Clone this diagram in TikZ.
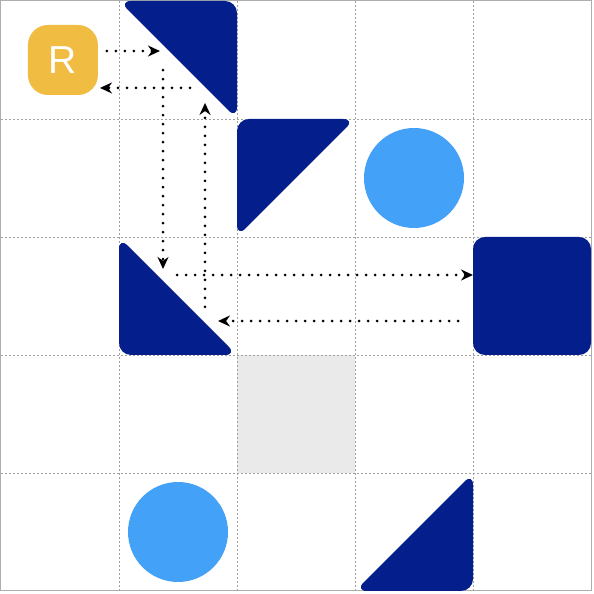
\documentclass[tikz,border=0pt]{standalone}
\usepackage{fontspec}
\setsansfont{Liberation Sans}
\usetikzlibrary{arrows.meta}
\definecolor{navy}{HTML}{041E8C}
\definecolor{sky}{HTML}{44A1F8}
\definecolor{gold}{HTML}{F0BC42}
\definecolor{floor}{HTML}{EAEAEA}
\definecolor{gridgray}{HTML}{A0A0A0}
\tikzset{
  block/.style={fill=navy, rounded corners=12pt},
  ball/.style={fill=sky},
  rbox/.style={fill=gold, rounded corners=20pt, minimum size=70pt, inner sep=0pt,
    text=white, font=\sffamily\fontsize{39}{39}\selectfont},
  route/.style={line width=3pt, dash pattern=on 0pt off 9pt, line cap=round,
    -{Stealth[length=12pt,width=11pt]}},
}
\begin{document}
\begin{tikzpicture}[x=118pt, y=118pt]
\useasboundingbox (-1pt,-3pt) rectangle (593pt,591pt);
% blocked floor cell
\fill[floor] (2,1) rectangle (3,2);
% grid
\foreach \i in {1,...,4} {
  \draw[gridgray, line width=0.8pt, dash pattern=on 2pt off 2pt] (\i,0) -- (\i,5);
  \draw[gridgray, line width=0.8pt, dash pattern=on 2pt off 2pt] (0,\i) -- (5,\i);
}
\draw[gridgray!85, line width=1pt] (0,0) rectangle (5,5);
% mirrors and walls
\fill[block] (1,5) -- (2,5) -- (2,4) -- cycle;
\fill[block] (2,4) -- (3,4) -- (2,3) -- cycle;
\fill[block] (1,3) -- (1,2) -- (2,2) -- cycle;
\fill[block] (3,0) -- (4,0) -- (4,1) -- cycle;
\fill[block] (4,2) rectangle (5,3);
% balls
\fill[ball] (3.5,3.5) circle (50pt);
\fill[ball] (1.5,0.5) circle (50pt);
% robot
\node[rbox] (robot) at (0.525,4.5) {R};
% path of the beam
\coordinate (a1) at (0.898,4.576);
\coordinate (a2) at (1.347,4.576);
\coordinate (b1) at (1.602,4.263);
\coordinate (b2) at (0.839,4.263);
\coordinate (c1) at (1.373,4.415);
\coordinate (c2) at (1.373,2.729);
\coordinate (d1) at (1.729,2.407);
\coordinate (d2) at (1.729,4.136);
\coordinate (e1) at (1.492,2.678);
\coordinate (e2) at (4.0,2.678);
\coordinate (f1) at (3.873,2.288);
\coordinate (f2) at (1.839,2.288);
\draw[route] (a1) -- (a2);
\draw[route] (b1) -- (b2);
\draw[route] (c1) -- (c2);
\draw[route] (d1) -- (d2);
\draw[route] (e1) -- (e2);
\draw[route] (f1) -- (f2);
\end{tikzpicture}
\end{document}
